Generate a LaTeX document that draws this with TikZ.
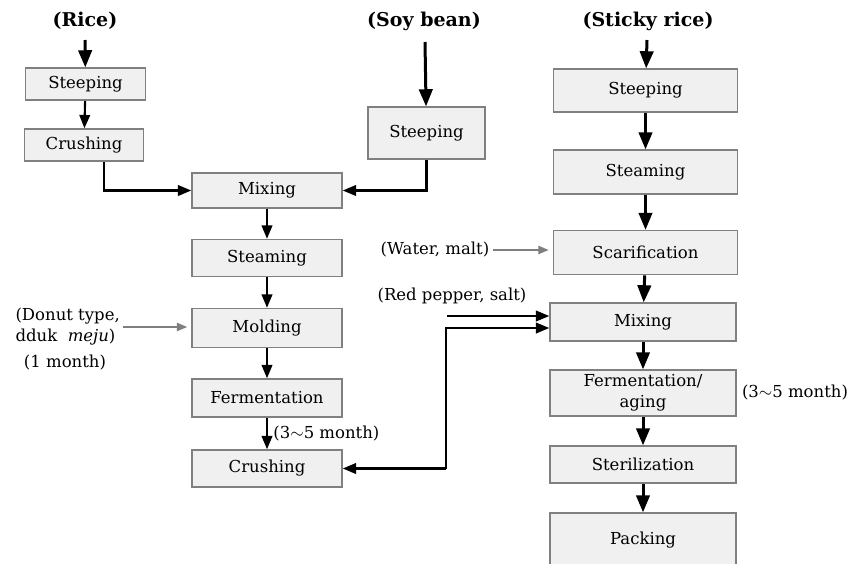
\documentclass[tikz,border=0pt]{standalone}
\usepackage{fontspec}
\setmainfont{DejaVu Serif}
\usepackage{tikz}
\usetikzlibrary{calc}
\usetikzlibrary{arrows}
\definecolor{boxfill}{HTML}{F0F0F0}
\definecolor{boxline}{HTML}{808080}
\definecolor{feedgray}{HTML}{7F7F7F}

\begin{document}
\begin{tikzpicture}[%
    x=1pt, y=-1pt,
    font=\fontsize{16.5}{21}\selectfont,
    block/.style={
      rectangle,
      draw=boxline,
      fill=boxfill,
      line width=1.8pt,
      align=center,
      inner sep=1pt
    },
    leftbox/.style={block, minimum width=120pt, minimum height=32pt},
    midbox/.style={block, minimum width=150pt, minimum height=37pt},
    rightbox/.style={block, minimum width=184pt, minimum height=43pt},
    source/.style={font=\fontsize{19}{22}\selectfont\bfseries},
    flow/.style={->, line width=3pt},
    thinflow/.style={->, line width=2.1pt},
    feed/.style={->, draw=feedgray, line width=1.4pt, shorten >=4pt},
    >=triangle 45
    ]
    \useasboundingbox (0,0) rectangle (851,563);

    % rice
    \draw (85,21) node[source] (rice) {(Rice)};
    \draw (85.5,84) node[leftbox] (riceSteep) {Steeping};
    \draw (84,145) node[leftbox, minimum width=119pt] (riceCrush) {Crushing};

    % soy bean
    \draw (424,21) node[source] (soy) {(Soy bean)};
    \draw (426.5,133) node[block, minimum width=117pt, minimum height=52pt] (soySteep) {Steeping};

    % meju line
    \draw (267,190.5) node[midbox, minimum height=35pt] (mixA) {Mixing};
    \draw (267,258) node[midbox] (steamA) {Steaming};
    \draw (267,328) node[midbox, minimum height=39pt] (mold) {Molding};
    \draw (267,398) node[midbox, minimum height=38pt] (fermA) {Fermentation};
    \draw (267,468.5) node[midbox] (crushA) {Crushing};
    \draw (12,327) node[anchor=west, align=left] (donut) {(Donut type,\\dduk\ \ \textit{meju})};
    \draw (65,363) node (oneMonth) {(1 month)};

    % sticky rice
    \draw (648,21) node[source] (sticky) {(Sticky rice)};
    \draw (645.5,90.5) node[rightbox] (stSteep) {Steeping};
    \draw (645.5,172) node[rightbox, minimum height=44pt] (stSteam) {Steaming};
    \draw (645.5,252.5) node[rightbox, minimum height=44pt] (scar) {Scarification};
    \draw (643,322) node[rightbox, minimum width=186pt, minimum height=38pt] (mixB) {Mixing};
    \draw (643,393) node[rightbox, minimum width=186pt, minimum height=46pt] (fermB) {Fermentation/\\aging};
    \draw (643,464.5) node[rightbox, minimum width=186pt, minimum height=37pt] (steril) {Sterilization};
    \draw (643,540) node[rightbox, minimum width=186pt, minimum height=54pt] (pack) {Packing};
    \draw (435,250) node (water) {(Water, malt)};
    \draw (452,296) node (pepper) {(Red pepper, salt)};
    \draw (795,393) node (agingTime) {(3$\sim$5 month)};
    \coordinate (pepIn) at (447,316);
    \coordinate (turn) at (446,468.5);

    % arrows
    \draw [flow] (85,40) -- (riceSteep);
    \draw [thinflow] (riceSteep) -- (riceCrush);
    \draw [thinflow] ($(riceCrush.south)+(20,0)$) |- (mixA.west);
    \draw [flow] (425,42) -- (soySteep);
    \draw [thinflow] (soySteep.south) |- (mixA.east);
    \draw [thinflow] (mixA) -- (steamA);
    \draw [thinflow] (steamA) -- (mold);
    \draw [thinflow] (mold) -- (fermA);
    \draw [thinflow] (fermA) -- (crushA) node[midway, right, xshift=2pt] () {(3$\sim$5 month)};
    \draw [feed] (donut.east) -- (mold.west |- donut.east);

    \draw [flow] (647,40) -- (stSteep);
    \draw [flow] (stSteep) -- (stSteam);
    \draw [flow] (stSteam) -- (scar);
    \draw [flow] (scar) -- (mixB);
    \draw [flow] (mixB) -- (fermB);
    \draw [flow] (fermB) -- (steril);
    \draw [flow] (steril) -- (pack);
    \draw [feed] (water.east) -- (scar.west |- water.east);
    \draw [thinflow] (pepIn) -- ($(mixB.west)+(0,-6)$);
    \draw [thinflow] (turn) -- (crushA.east);
    \draw [thinflow] (turn) |- ($(mixB.west)+(0,6)$);
\end{tikzpicture}
\end{document}
